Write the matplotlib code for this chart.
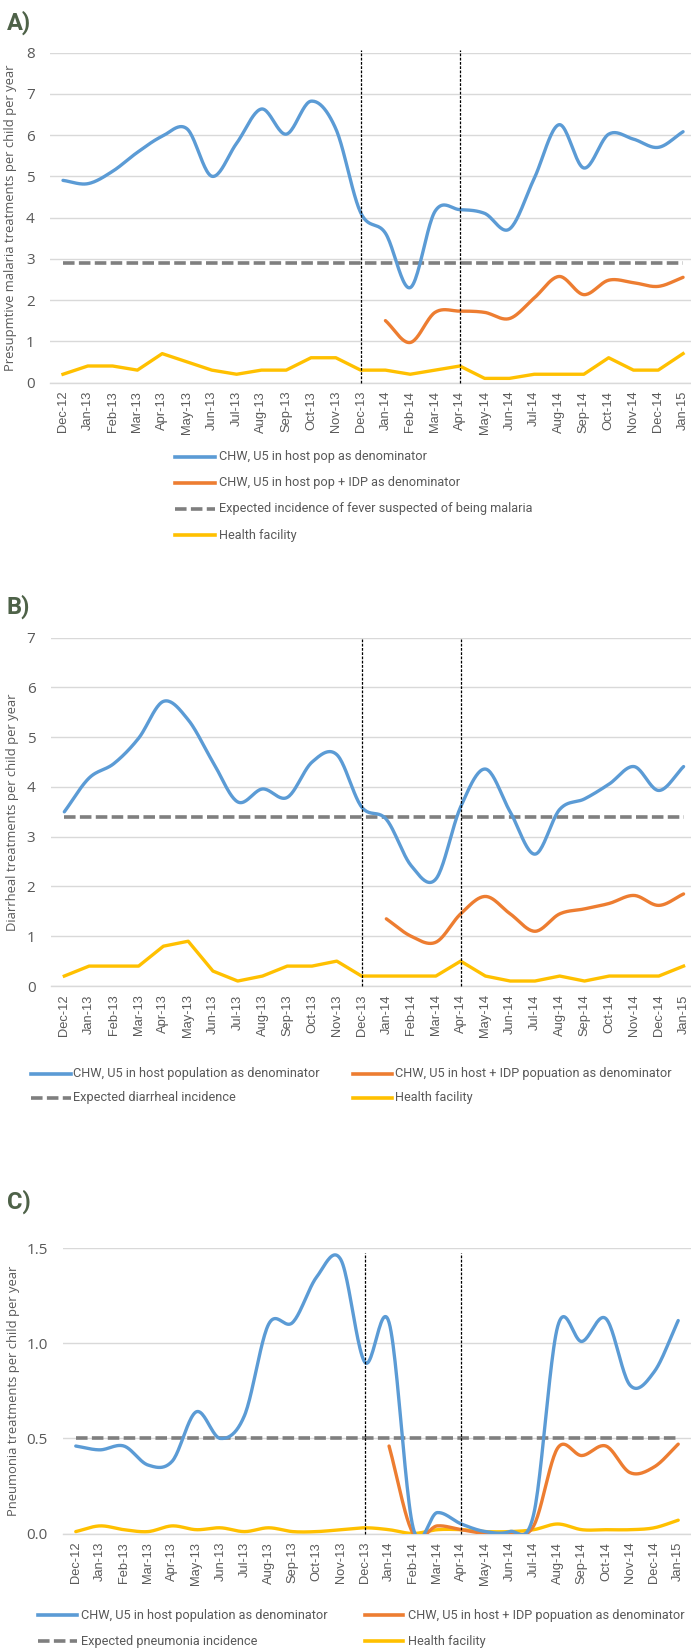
import numpy as np
import matplotlib
matplotlib.use("Agg")
import matplotlib.pyplot as plt
from matplotlib.lines import Line2D

months = ["Dec-12", "Jan-13", "Feb-13", "Mar-13", "Apr-13", "May-13", "Jun-13", "Jul-13",
          "Aug-13", "Sep-13", "Oct-13", "Nov-13", "Dec-13", "Jan-14", "Feb-14", "Mar-14",
          "Apr-14", "May-14", "Jun-14", "Jul-14", "Aug-14", "Sep-14", "Oct-14", "Nov-14",
          "Dec-14", "Jan-15"]
marker_months = ["Dec-13", "Apr-14"]
N = np.nan

# Panel A - malaria
a_host = [4.9, 4.82, 5.12, 5.58, 5.97, 6.15, 5.0, 5.8, 6.63, 6.02, 6.82, 6.15, 4.12, 3.62,
          2.3, 4.15, 4.19, 4.1, 3.72, 4.95, 6.25, 5.2, 6.02, 5.9, 5.7, 6.08]
a_idp = [N] * 13 + [1.5, 0.97, 1.7, 1.73, 1.7, 1.55, 2.05, 2.57, 2.13, 2.48, 2.42, 2.33, 2.55]
a_expected = 2.9
a_hf = [0.2, 0.4, 0.4, 0.3, 0.7, 0.5, 0.3, 0.2, 0.3, 0.3, 0.6, 0.6, 0.3, 0.3, 0.2, 0.3,
        0.4, 0.1, 0.1, 0.2, 0.2, 0.2, 0.6, 0.3, 0.3, 0.7]

# Panel B - diarrhea
b_host = [3.5, 4.18, 4.47, 4.98, 5.72, 5.35, 4.5, 3.7, 3.96, 3.79, 4.5, 4.65, 3.6, 3.35,
          2.42, 2.15, 3.6, 4.36, 3.5, 2.65, 3.55, 3.76, 4.06, 4.41, 3.93, 4.41]
b_idp = [N] * 13 + [1.35, 1.0, 0.88, 1.45, 1.8, 1.45, 1.1, 1.45, 1.55, 1.66, 1.82, 1.62, 1.85]
b_expected = 3.4
b_hf = [0.2, 0.4, 0.4, 0.4, 0.8, 0.9, 0.3, 0.1, 0.2, 0.4, 0.4, 0.5, 0.2, 0.2, 0.2, 0.2,
        0.5, 0.2, 0.1, 0.1, 0.2, 0.1, 0.2, 0.2, 0.2, 0.4]

# Panel C - pneumonia
c_host = [0.46, 0.44, 0.46, 0.36, 0.38, 0.64, 0.5, 0.62, 1.1, 1.11, 1.35, 1.44, 0.9, 1.11,
          0.03, 0.11, 0.05, 0.01, 0.01, 0.1, 1.09, 1.01, 1.13, 0.78, 0.85, 1.12]
c_idp = [N] * 13 + [0.46, 0.0, 0.04, 0.02, 0.0, 0.0, 0.04, 0.45, 0.41, 0.46, 0.32, 0.35, 0.47]
c_expected = 0.5
c_hf = [0.01, 0.04, 0.02, 0.01, 0.04, 0.02, 0.03, 0.01, 0.03, 0.01, 0.01, 0.02, 0.03, 0.02,
        0.0, 0.02, 0.02, 0.01, 0.01, 0.02, 0.05, 0.02, 0.02, 0.02, 0.03, 0.07]

BLUE = "#5b9bd5"
ORANGE = "#ed7d31"
GREY = "#7f7f7f"
YELLOW = "#ffc000"
TXT = "#595959"
GRID = "#d9d9d9"
LABEL_COL = "#4e6248"

LEG_FONT = ["Roboto", "DejaVu Sans"]


def smooth(xs, ys, n=24):
    xs = np.asarray(xs, float)
    ys = np.asarray(ys, float)
    m = ~np.isnan(ys)
    xs, ys = xs[m], ys[m]
    px = np.concatenate([[2 * xs[0] - xs[1]], xs, [2 * xs[-1] - xs[-2]]])
    py = np.concatenate([[2 * ys[0] - ys[1]], ys, [2 * ys[-1] - ys[-2]]])
    ox, oy = [], []
    t = np.linspace(0, 1, n, endpoint=False)
    for i in range(1, len(px) - 2):
        p0x, p1x, p2x, p3x = px[i - 1:i + 3]
        p0y, p1y, p2y, p3y = py[i - 1:i + 3]
        c1x = p1x + (p2x - p0x) / 6
        c1y = p1y + (p2y - p0y) / 6
        c2x = p2x - (p3x - p1x) / 6
        c2y = p2y - (p3y - p1y) / 6
        bx = (1 - t) ** 3 * p1x + 3 * (1 - t) ** 2 * t * c1x + 3 * (1 - t) * t ** 2 * c2x + t ** 3 * p2x
        by = (1 - t) ** 3 * p1y + 3 * (1 - t) ** 2 * t * c1y + 3 * (1 - t) * t ** 2 * c2y + t ** 3 * p2y
        ox.extend(bx)
        oy.extend(by)
    ox.append(xs[-1])
    oy.append(ys[-1])
    return np.array(ox), np.array(oy)


W, H = 691, 1648
fig = plt.figure(figsize=(W / 100, H / 100), dpi=100)


def fx(px):
    return px / W


def fy(py):
    return 1 - py / H


def make_panel(rect_px, xlim, ymax, yticks, yfmt, ylabel, host, idp, expected, hf,
               hf_smooth, vtop, ylabel_x):
    left, top, right, bottom = rect_px
    ax = fig.add_axes([fx(left), fy(bottom), (right - left) / W, (bottom - top) / H])
    x = np.arange(len(months))
    ax.set_xlim(*xlim)
    ax.set_ylim(0, ymax)
    ax.set_yticks(yticks)
    ax.set_yticklabels([yfmt.format(v) for v in yticks])
    ax.yaxis.grid(True, color=GRID, linewidth=1.0)
    ax.set_axisbelow(True)
    for s in ["top", "right", "left"]:
        ax.spines[s].set_visible(False)
    ax.spines["bottom"].set_color(GRID)
    ax.spines["bottom"].set_linewidth(1.0)
    ax.set_xticks(x)
    ax.set_xticklabels(months, rotation=90, fontsize=9.3, color=TXT,
                       family=["Liberation Sans", "DejaVu Sans"])
    ax.tick_params(axis="x", length=0, pad=6)
    ax.tick_params(axis="y", length=0, pad=11, labelsize=11, labelcolor=TXT)
    for lab in ax.get_yticklabels():
        lab.set_family(["Open Sans", "DejaVu Sans"])
    ax.set_ylabel(ylabel, fontsize=9.4, color=TXT, family=["Open Sans", "DejaVu Sans"])
    ax.yaxis.set_label_coords(ylabel_x, 0.5)

    ax.plot([x[0], x[-1]], [expected, expected], color=GREY, lw=2.6,
            dashes=(3.2, 1.2), zorder=3)
    if hf_smooth:
        sx, sy = smooth(x, hf)
        ax.plot(sx, sy, color=YELLOW, lw=2.4, zorder=4, solid_capstyle="round")
    else:
        ax.plot(x, hf, color=YELLOW, lw=2.4, zorder=4, solid_joinstyle="round")
    sx, sy = smooth(x, idp)
    ax.plot(sx, sy, color=ORANGE, lw=2.4, zorder=5, solid_capstyle="round")
    sx, sy = smooth(x, host)
    ax.plot(sx, sy, color=BLUE, lw=2.4, zorder=6, solid_capstyle="round")
    for mm in marker_months:
        xi = months.index(mm)
        ax.plot([xi, xi], [0, vtop], color="black", lw=0.9, dashes=(2.2, 1.2),
                zorder=7, clip_on=False)
    return ax


def legend_entry(x0, x1, xt, y, color, text, dashed=False, lw=2.6):
    yy = fy(y)
    if dashed:
        ln = Line2D([fx(x0), fx(x1)], [yy, yy], color=color, lw=lw, dashes=(3.2, 1.2),
                    transform=fig.transFigure)
    else:
        ln = Line2D([fx(x0), fx(x1)], [yy, yy], color=color, lw=lw,
                    transform=fig.transFigure)
    fig.add_artist(ln)
    fig.text(fx(xt), yy, text, fontsize=9.2, color=TXT, family=LEG_FONT,
             va="center", ha="left")


def panel_label(txt, y):
    fig.text(fx(7), fy(y), txt, fontsize=17, fontweight="bold", color=LABEL_COL,
             family=["Roboto", "DejaVu Sans"], va="center", ha="left")


# ---- Panel A ----
panel_label("A)", 23)
make_panel((50, 52.5, 691, 382.5), (-0.524, 25.32), 8, list(range(0, 9)), "{:d}",
           "Presupmtive malaria treatments per child per year",
           a_host, a_idp, a_expected, a_hf, False, 8.06, -0.051)
legend_entry(175, 214.5, 219, 456.7, BLUE, "CHW, U5 in host pop as denominator")
legend_entry(175, 214.5, 219, 482.7, ORANGE, "CHW, U5 in host pop + IDP as denominator")
legend_entry(175, 214.5, 219, 508.7, GREY, "Expected incidence of fever suspected of being malaria", dashed=True)
legend_entry(175, 214.5, 219, 535.0, YELLOW, "Health facility")

# ---- Panel B ----
panel_label("B)", 607)
make_panel((50.7, 637.7, 691, 986), (-0.55, 25.3), 7, list(range(0, 8)), "{:d}",
           "Diarrheal treatments per child per year",
           b_host, b_idp, b_expected, b_hf, False, 6.98, -0.05)
legend_entry(31, 70.5, 72.7, 1073.5, BLUE, "CHW, U5 in host population as denominator")
legend_entry(352.6, 392, 395, 1073.5, ORANGE, "CHW, U5 in host + IDP popuation as denominator")
legend_entry(31, 70.5, 72.7, 1098, GREY, "Expected diarrheal incidence", dashed=True)
legend_entry(352.6, 392, 395, 1098, YELLOW, "Health facility")

# ---- Panel C ----
panel_label("C)", 1202)
make_panel((63, 1248.3, 691, 1533.5), (-0.53, 25.53), 1.5, [0.0, 0.5, 1.0, 1.5], "{:.1f}",
           "Pneumonia treatments per child per year",
           c_host, c_idp, c_expected, c_hf, True, 1.475, -0.068)
legend_entry(37.5, 77, 80.6, 1615, BLUE, "CHW, U5 in host population as denominator")
legend_entry(365, 403, 407.7, 1615, ORANGE, "CHW, U5 in host + IDP popuation as denominator")
legend_entry(37.5, 77, 80.6, 1641, GREY, "Expected pneumonia incidence", dashed=True)
legend_entry(365, 403, 407.7, 1641, YELLOW, "Health facility")

fig.savefig("out.png", dpi=100, facecolor="white")
